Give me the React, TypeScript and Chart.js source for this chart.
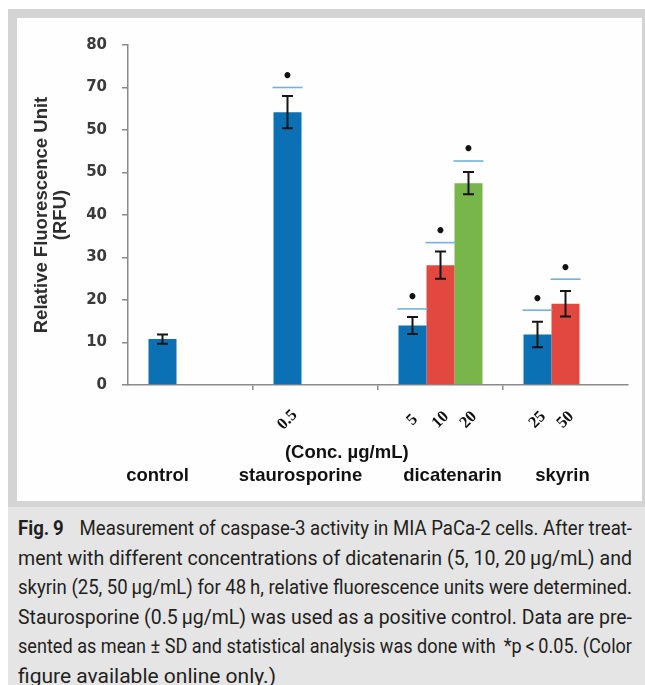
import React, { useEffect, useLayoutEffect, useRef } from "react";
import { Chart, registerables } from "chart.js";

Chart.register(...registerables);

// ---- data ----
const categories = ["control", "staurosporine", "dicatenarin", "skyrin"];
const yTickLabels = ["0", "10", "20", "30", "40", "50", "50", "70", "80"];
const concBlue = ["", "0.5", "5", "25"];
const concRed = ["", "", "10", "50"];
const concGreen = ["", "", "20", ""];
const blueValues = [10.8, 64.2, 14.0, 11.9];
const redValues = [null, null, 28.2, 19.1];
const greenValues = [null, null, 47.5, null];
const blueErr = [1.1, 3.8, 2.0, 3.0];
const redErr = [null, null, 3.2, 3.0];
const greenErr = [null, null, 2.6, null];
const blueSig = [null, 70.0, 17.9, 17.6];
const redSig = [null, null, 33.5, 24.9];
const greenSig = [null, null, 52.7, null];
const axisTitle = ["Relative Fluorescence Unit", "(RFU)"];
const concTitle = "(Conc. \u00b5g/mL)";

const captionLines = [
  "Measurement of caspase-3 activity in MIA PaCa-2 cells. After treat-",
  "ment with different concentrations of dicatenarin (5, 10, 20\u2009\u00b5g/mL) and",
  "skyrin (25, 50\u2009\u00b5g/mL) for 48\u2009h, relative fluorescence units were determined.",
  "Staurosporine (0.5\u2009\u00b5g/mL) was used as a positive control. Data are pre-",
  "sented as mean \u00b1 SD and statistical analysis was done with \u2009*p\u2009<\u20090.05. (Color",
  "figure available online only.)",
];

const errs = [blueErr, redErr, greenErr];
const sigs = [blueSig, redSig, greenSig];
const concs = [concBlue, concRed, concGreen];

const overlay = {
  id: "overlay",
  afterDatasetsDraw(chart: any) {
    const ctx = chart.ctx;
    const ys = chart.scales.y;
    chart.data.datasets.forEach((ds: any, di: number) => {
      const meta = chart.getDatasetMeta(di);
      meta.data.forEach((bar: any, i: number) => {
        const v = ds.data[i];
        if (v == null) return;
        const { x, width } = bar.getProps(["x", "width"], true);
        const e = errs[di][i];
        ctx.save();
        if (e != null) {
          const yt = ys.getPixelForValue(v + e);
          const yb = ys.getPixelForValue(v - e);
          ctx.strokeStyle = "#151515";
          ctx.lineWidth = 2;
          ctx.beginPath();
          ctx.moveTo(x, yt);
          ctx.lineTo(x, yb);
          ctx.moveTo(x - 5.5, yt);
          ctx.lineTo(x + 5.5, yt);
          ctx.moveTo(x - 5.5, yb);
          ctx.lineTo(x + 5.5, yb);
          ctx.stroke();
        }
        const s = sigs[di][i];
        if (s != null) {
          const yy = ys.getPixelForValue(s);
          ctx.strokeStyle = "#6fb3e0";
          ctx.lineWidth = 1.6;
          ctx.beginPath();
          ctx.moveTo(x - width / 2 - 1, yy);
          ctx.lineTo(x + width / 2 + 1, yy);
          ctx.stroke();
          ctx.fillStyle = "#111";
          ctx.font = "bold 17px 'DejaVu Sans'";
          ctx.textAlign = "center";
          ctx.textBaseline = "middle";
          ctx.fillText("\u2022", x, yy - 10);
        }
        ctx.restore();
      });
    });
  },
  afterDraw(chart: any) {
    const ctx = chart.ctx;
    const xs = chart.scales.x;
    const bottom = chart.chartArea.bottom;
    ctx.save();
    ctx.fillStyle = "#111";
    ctx.font = "bold 16.5px 'Liberation Serif'";
    ctx.textAlign = "center";
    ctx.textBaseline = "middle";
    const groupCenters: number[] = categories.map(() => 0);
    const groupCounts: number[] = categories.map(() => 0);
    chart.data.datasets.forEach((ds: any, di: number) => {
      const meta = chart.getDatasetMeta(di);
      meta.data.forEach((bar: any, i: number) => {
        if (ds.data[i] == null) return;
        const { x } = bar.getProps(["x"], true);
        groupCenters[i] += x;
        groupCounts[i] += 1;
        const label = concs[di][i];
        if (!label) return;
        ctx.save();
        ctx.translate(x, bottom + 35);
        ctx.rotate(-Math.PI / 4);
        ctx.fillText(label, 0, 0);
        ctx.restore();
      });
    });
    ctx.font = "bold 18.5px 'Liberation Sans'";
    const p1 = xs.getPixelForValue(1);
    const p2 = xs.getPixelForValue(2);
    ctx.fillText(concTitle, p1 + (p2 - p1) * 0.25, bottom + 68);
    const nudge = [-5, 13, 12, 11];
    categories.forEach((name, i) => {
      const cx = groupCenters[i] / Math.max(1, groupCounts[i]);
      ctx.fillText(name, cx + nudge[i], bottom + 91);
    });
    ctx.restore();
  },
};

function BarChart() {
  const ref = useRef<HTMLCanvasElement>(null);
  useEffect(() => {
    if (!ref.current) return;
    const chart = new Chart(ref.current, {
      type: "bar",
      data: {
        labels: categories,
        datasets: [
          { data: blueValues, backgroundColor: "#0b70b4" },
          { data: redValues, backgroundColor: "#e2483f" },
          { data: greenValues, backgroundColor: "#78b54a" },
        ] as any,
      },
      options: {
        animation: false,
        responsive: false,
        devicePixelRatio: 1,
        layout: { padding: { top: 27, right: 14, left: 0, bottom: 0 } },
        datasets: { bar: { categoryPercentage: 0.672, barPercentage: 1.0 } },
        plugins: { legend: { display: false }, tooltip: { enabled: false } },
        scales: {
          x: {
            afterFit: (s: any) => {
              s.height = 116;
            },
            ticks: { display: false },
            grid: {
              offset: true,
              drawOnChartArea: false,
              drawTicks: true,
              tickLength: 5,
              lineWidth: 1.5,
              color: (c: any) =>
                c.index > 0 && c.index < categories.length ? "#8a8a8a" : "rgba(0,0,0,0)",
            },
            border: { display: true, color: "#8a8a8a", width: 1.5 },
          },
          y: {
            min: 0,
            max: 80,
            afterFit: (s: any) => {
              s.width = 111;
            },
            ticks: {
              stepSize: 10,
              padding: 15,
              color: "#3b3b3b",
              font: { family: "'DejaVu Sans'", weight: "bold", size: 15 },
              callback: (_v: any, i: number) => yTickLabels[i],
            },
            grid: {
              drawOnChartArea: false,
              drawTicks: true,
              tickLength: 6,
              lineWidth: 1.5,
              color: "#8a8a8a",
            },
            border: { display: true, color: "#8a8a8a", width: 1.5 },
            title: {
              display: true,
              text: axisTitle,
              color: "#2e2e2e",
              font: { family: "'Liberation Sans'", weight: "bold", size: 18.5, lineHeight: 1 },
              padding: { top: 16, bottom: 0 },
            },
          },
        },
      } as any,
      plugins: [overlay],
    });
    return () => chart.destroy();
  }, []);
  return <canvas ref={ref} width={625} height={483} style={{ display: "block" }} />;
}

const CAPTION_WIDTH = 614;

function Caption() {
  const refs = useRef<(HTMLSpanElement | null)[]>([]);
  useLayoutEffect(() => {
    const els = refs.current;
    els.forEach((el, i) => {
      if (!el || i === els.length - 1) return;
      const w = el.getBoundingClientRect().width;
      el.style.transform = `scaleX(${CAPTION_WIDTH / w})`;
    });
  }, []);
  return (
    <div
      style={{
        position: "absolute",
        left: 8,
        top: 507,
        width: 637,
        height: 178,
        background: "#e5e5e5",
        boxSizing: "border-box",
        padding: "7px 0 0 10px",
        fontFamily: "Roboto, 'Open Sans', sans-serif",
        fontSize: 21,
        color: "#231f20",
        overflow: "hidden",
      }}
    >
      {captionLines.map((ln, i) => (
        <div key={i} style={{ height: 29.5, lineHeight: "29.5px", whiteSpace: "nowrap" }}>
          <span
            ref={(el) => {
              refs.current[i] = el;
            }}
            style={{ display: "inline-block", transformOrigin: "left center" }}
          >
            {i === 0 ? (
              <>
                <b>Fig.{"\u2009"}9</b>
                <span style={{ display: "inline-block", width: 18 }} />
              </>
            ) : null}
            {ln}
          </span>
        </div>
      ))}
    </div>
  );
}

export default function App() {
  useEffect(() => {
    document.body.style.margin = "0";
    document.documentElement.style.overflow = "hidden";
    document.body.style.overflow = "hidden";
  }, []);
  return (
    <div style={{ position: "relative", width: 645, height: 685, background: "#ffffff", overflow: "hidden" }}>
      <div style={{ position: "absolute", left: 8, top: 9, width: 637, height: 498, background: "#d4d4d4" }} />
      <div style={{ position: "absolute", left: 17, top: 18, width: 625, height: 483, background: "#fefefe" }}>
        <BarChart />
      </div>
      <Caption />
    </div>
  );
}
